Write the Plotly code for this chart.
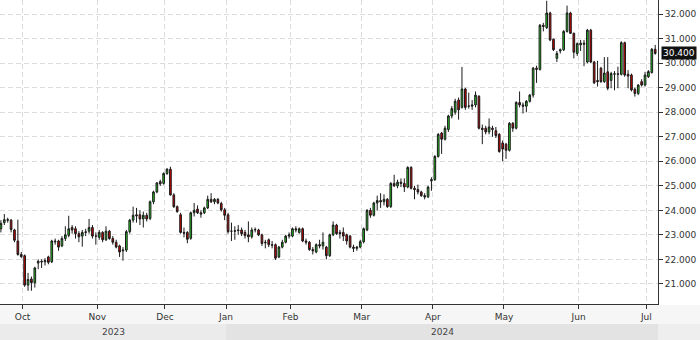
import pandas as pd
import plotly.graph_objects as go

# ---------------- data ----------------
closed_days = ["2023-11-01", "2023-11-23", "2023-12-08", "2023-12-25", "2023-12-26",
               "2024-01-01", "2024-01-02", "2024-01-15", "2024-01-16",
               "2024-04-01", "2024-05-01"]
dates = [d for d in pd.bdate_range("2023-09-21", "2024-07-03")
         if d.strftime("%Y-%m-%d") not in closed_days]

open_ = [23.25, 23.5, 23.62, 23.6, 23.2, 22.75, 22.2, 22.15, 20.95, 21.2,
         21.05, 21.85, 21.92, 21.9, 22.1, 21.9, 22.75, 22.75, 22.55, 22.85,
         22.98, 23.3, 23.25, 23.05, 22.95, 23.1, 23.15, 23.3, 22.95, 22.9,
         23.1, 22.8, 23.15, 22.85, 22.7, 22.55, 22.35, 22.38, 23.13, 23.6,
         23.82, 23.82, 23.65, 23.8, 23.67, 24.35, 24.75, 25.17, 25.1, 25.5,
         25.68, 24.63, 24.15, 23.82, 23.1, 23.1, 22.86, 23.9, 24.05, 23.9,
         23.9, 24.1, 24.45, 24.35, 24.45, 24.28, 24.02, 23.82, 23.15, 23.17,
         23.2, 23.2, 23.1, 23.0, 22.92, 23.2, 23.2, 23.0, 22.7, 22.8,
         22.6, 22.6, 22.1, 22.5, 22.7, 22.95, 22.95, 23.25, 23.1, 23.25,
         22.75, 22.7, 22.4, 22.3, 22.6, 22.55, 22.5, 22.15, 23.0, 23.4,
         23.1, 23.1, 23.0, 22.95, 22.5, 22.45, 22.5, 22.72, 23.2, 24.0,
         23.8, 24.3, 24.4, 24.35, 24.45, 24.15, 25.1, 25.0, 25.15, 25.1,
         24.95, 25.75, 24.9, 24.85, 24.75, 24.6, 24.55, 25.2, 25.25, 26.2,
         27.15, 26.9, 27.3, 27.85, 28.0, 28.5, 28.2, 28.95, 28.25, 28.25,
         28.3, 28.65, 27.35, 27.35, 27.2, 27.35, 27.25, 27.1, 26.75, 26.7,
         26.45, 27.55, 27.35, 28.4, 28.3, 28.25, 28.45, 28.7, 29.8, 29.75,
         31.55, 31.45, 32.05, 30.98, 30.2, 30.5, 30.55, 31.3, 32.05, 31.22,
         30.4, 30.75, 30.82, 30.05, 31.35, 30.05, 29.3, 29.8, 29.25, 29.65,
         29.3, 29.55, 29.57, 29.55, 30.84, 29.55, 29.52, 28.94, 28.77, 29.25,
         29.11, 29.45, 29.62, 30.57]

high = [23.6, 23.85, 23.7, 23.65, 23.25, 23.62, 22.3, 22.2, 21.45, 21.3,
        21.7, 22.0, 22.0, 22.05, 22.15, 22.8, 22.85, 22.8, 22.95, 23.35,
        23.78, 23.4, 23.35, 23.15, 23.2, 23.25, 23.65, 23.4, 23.1, 23.2,
        23.15, 23.35, 23.2, 22.95, 22.8, 22.6, 22.5, 23.2, 23.65, 24.15,
        24.1, 24.0, 23.95, 23.9, 24.4, 24.8, 25.15, 25.25, 25.55, 25.72,
        25.78, 24.7, 24.2, 23.9, 23.3, 23.15, 23.95, 24.3, 24.2, 24.0,
        24.15, 24.6, 24.7, 24.5, 24.5, 24.35, 24.1, 23.9, 23.5, 23.35,
        23.4, 23.3, 23.2, 23.55, 23.3, 23.3, 23.25, 23.05, 22.8, 22.85,
        22.75, 22.65, 22.55, 22.8, 23.0, 23.1, 23.3, 23.35, 23.3, 23.3,
        22.85, 22.75, 22.5, 22.65, 22.8, 23.1, 22.55, 23.05, 23.55, 23.45,
        23.2, 23.3, 23.05, 23.0, 22.6, 22.55, 22.8, 23.3, 24.05, 24.1,
        24.35, 24.6, 24.7, 24.65, 24.5, 25.15, 25.45, 25.25, 25.3, 25.3,
        25.8, 25.8, 25.0, 25.05, 24.8, 24.7, 25.0, 25.35, 26.25, 27.15,
        27.2, 27.45, 27.9, 28.25, 28.55, 28.6, 29.85, 29.0, 28.8, 28.5,
        28.85, 28.7, 27.5, 27.45, 27.75, 27.45, 27.4, 27.15, 26.85, 26.75,
        27.6, 27.6, 28.45, 28.85, 28.4, 28.5, 28.75, 29.85, 29.9, 31.6,
        31.65, 32.55, 32.1, 31.0, 30.5, 30.6, 31.35, 32.35, 32.1, 31.25,
        30.85, 30.95, 30.95, 31.4, 31.4, 30.1, 30.1, 29.85, 30.25, 30.25,
        29.65, 29.68, 29.86, 30.9, 30.88, 29.72, 29.58, 29.0, 29.15, 29.35,
        29.65, 29.72, 30.62, 30.75]

low = [23.1, 23.4, 23.5, 23.1, 22.7, 22.15, 22.05, 20.88, 20.72, 20.72,
       20.85, 21.6, 21.65, 21.75, 21.8, 21.85, 22.6, 22.35, 22.5, 22.75,
       22.9, 23.05, 22.85, 22.7, 22.52, 22.95, 23.05, 22.85, 22.6, 22.8,
       22.7, 22.75, 22.8, 22.6, 22.45, 22.1, 21.95, 22.3, 23.05, 23.5,
       23.5, 23.4, 23.3, 23.55, 23.6, 24.25, 24.7, 25.0, 25.05, 25.45,
       24.6, 24.1, 23.9, 23.05, 22.9, 22.66, 22.8, 23.75, 23.85, 23.7,
       23.85, 24.05, 24.3, 24.25, 24.25, 23.95, 23.6, 23.05, 22.75, 22.8,
       23.0, 22.95, 22.85, 22.7, 22.85, 23.1, 22.95, 22.55, 22.45, 22.5,
       22.45, 21.98, 22.05, 22.45, 22.65, 22.85, 22.9, 23.1, 23.05, 22.7,
       22.6, 22.35, 22.2, 22.25, 22.45, 22.4, 22.0, 22.1, 22.95, 23.0,
       22.85, 22.75, 22.6, 22.45, 22.3, 22.35, 22.45, 22.65, 23.15, 23.7,
       23.75, 24.0, 24.1, 24.2, 24.1, 24.1, 24.95, 24.9, 24.95, 24.75,
       24.9, 24.85, 24.45, 24.65, 24.55, 24.45, 24.5, 24.8, 25.2, 26.15,
       26.3, 26.85, 27.2, 27.75, 27.9, 27.7, 28.15, 28.1, 28.15, 28.1,
       28.2, 27.3, 26.7, 27.1, 27.1, 27.0, 26.95, 26.35, 26.0, 26.1,
       26.4, 27.2, 27.3, 28.2, 27.95, 28.0, 28.4, 28.6, 29.2, 29.7,
       31.3, 31.4, 30.9, 30.5, 30.05, 30.4, 30.5, 31.25, 31.2, 30.2,
       30.3, 30.5, 29.88, 30.0, 30.0, 29.15, 29.05, 29.2, 29.2, 28.9,
       28.98, 28.9, 28.98, 29.5, 29.45, 28.98, 28.85, 28.64, 28.7, 29.05,
       29.05, 29.4, 29.58, 30.35]

close = [23.47, 23.62, 23.6, 23.22, 22.78, 22.2, 22.12, 20.95, 21.18, 21.05,
         21.65, 21.92, 21.9, 21.95, 21.88, 22.75, 22.72, 22.5, 22.85, 23.0,
         23.25, 23.2, 23.05, 22.92, 23.1, 23.12, 23.3, 22.95, 22.95, 23.1,
         22.8, 23.15, 22.85, 22.7, 22.5, 22.3, 22.38, 23.13, 23.6, 23.8,
         23.78, 23.65, 23.8, 23.65, 24.35, 24.75, 25.12, 25.08, 25.5, 25.68,
         24.63, 24.15, 23.95, 23.1, 23.07, 22.82, 23.9, 24.0, 23.9, 23.85,
         24.1, 24.45, 24.35, 24.45, 24.3, 24.02, 23.8, 23.13, 23.15, 23.15,
         23.18, 23.05, 22.97, 22.92, 23.2, 23.22, 23.0, 22.65, 22.68, 22.6,
         22.58, 22.05, 22.5, 22.7, 22.95, 23.0, 23.25, 23.2, 23.25, 22.75,
         22.7, 22.4, 22.35, 22.6, 22.55, 22.7, 22.15, 23.0, 23.4, 23.05,
         23.05, 22.95, 22.75, 22.5, 22.45, 22.5, 22.72, 23.25, 24.0, 23.8,
         24.3, 24.4, 24.35, 24.45, 24.15, 25.1, 25.0, 25.15, 25.1, 24.95,
         25.75, 24.9, 24.85, 24.75, 24.6, 24.55, 24.95, 25.25, 26.2, 27.1,
         26.9, 27.35, 27.85, 28.15, 28.45, 28.1, 28.95, 28.2, 28.25, 28.3,
         28.7, 27.35, 27.3, 27.2, 27.4, 27.3, 27.05, 26.4, 26.5, 26.45,
         27.55, 27.35, 28.4, 28.3, 28.25, 28.45, 28.7, 29.8, 29.75, 31.55,
         31.5, 32.05, 30.95, 30.55, 30.4, 30.55, 31.3, 32.05, 31.22, 30.45,
         30.8, 30.82, 30.78, 31.35, 30.05, 29.2, 29.25, 29.25, 29.6, 28.98,
         29.58, 29.57, 29.55, 30.84, 29.52, 29.48, 28.91, 28.77, 29.11, 29.11,
         29.52, 29.66, 30.57, 30.40]

y_ticks = [21, 22, 23, 24, 25, 26, 27, 28, 29, 30, 31, 32]

assert len(dates) == len(open_) == len(high) == len(low) == len(close)

# ---------------- derived axis helpers ----------------
n = len(dates)
xs = list(range(n))
x_lo, x_hi = -0.27, n - 0.17
y_lo, y_hi = 20.18, 32.58

tickvals, ticktext, year_starts = [], [], []
for k in range(1, n):
    if dates[k].month != dates[k - 1].month:
        tickvals.append(k - 0.6)
        ticktext.append(dates[k].strftime("%b"))
        if dates[k].year != dates[k - 1].year:
            year_starts.append((k - 0.6, dates[k].year))

def to_paper(v):
    return (v - x_lo) / (x_hi - x_lo)

font_family = "DejaVu Sans, Verdana, sans-serif"

fig = go.Figure(go.Candlestick(
    x=xs, open=open_, high=high, low=low, close=close,
    increasing=dict(fillcolor="#22d022", line=dict(color="#1a1a1a", width=1)),
    decreasing=dict(fillcolor="#d80000", line=dict(color="#1a1a1a", width=1)),
    whiskerwidth=0, hoverinfo="skip", showlegend=False,
))

# bottom strips (label row and year band)
shapes = [
    dict(type="rect", xref="paper", yref="paper", x0=0, x1=1.07, y0=-0.0033, y1=-0.0658,
         fillcolor="#f6f6f6", line_width=0, layer="below"),
]
first_year = dates[0].year
bounds = [(0.0, first_year)]
for v, yr in year_starts:
    bounds.append((to_paper(v), yr))
for j, (p0, yr) in enumerate(bounds):
    p1 = bounds[j + 1][0] if j + 1 < len(bounds) else 1.0
    shapes.append(dict(type="rect", xref="paper", yref="paper", x0=p0, x1=p1,
                       y0=-0.0658, y1=-0.1184,
                       fillcolor="#ebebeb" if j % 2 == 0 else "#e3e3e3",
                       line_width=0, layer="below"))
shapes.append(dict(type="rect", xref="paper", yref="paper", x0=1.0, x1=1.07,
                   y0=-0.0658, y1=-0.1184, fillcolor="#eeeeee", line_width=0, layer="below"))

annotations = []
for j, (p0, yr) in enumerate(bounds):
    p1 = bounds[j + 1][0] if j + 1 < len(bounds) else 1.0
    annotations.append(dict(x=(p0 + p1) / 2, y=-0.0921, xref="paper", yref="paper",
                            xanchor="center", yanchor="middle",
                            text=str(yr), showarrow=False,
                            font=dict(size=9, color="#444", family=font_family)))
annotations.append(dict(x=1, xref="paper", xanchor="left", xshift=3,
                        y=close[-1], yref="y", yanchor="middle", text=f"{close[-1]:.3f}",
                        showarrow=False, bgcolor="#111111", borderpad=1,
                        font=dict(size=9, color="white", family=font_family)))

fig.update_layout(
    width=700, height=340,
    margin=dict(l=0, r=42, t=0, b=36),
    paper_bgcolor="white", plot_bgcolor="white",
    font=dict(family=font_family, size=9, color="#333"),
    shapes=shapes, annotations=annotations,
    xaxis=dict(range=[x_lo, x_hi], tickmode="array", tickvals=tickvals, ticktext=ticktext,
               showgrid=True, gridcolor="#dcdcdc", griddash="5px,3px", gridwidth=1,
               showline=True, linecolor="#333", linewidth=1,
               ticks="outside", ticklen=4, tickcolor="#333",
               tickfont=dict(size=9, color="#333"),
               zeroline=False, rangeslider=dict(visible=False), fixedrange=True),
    yaxis=dict(range=[y_lo, y_hi], side="right", tickmode="array", tickvals=y_ticks,
               tickformat=".3f",
               showgrid=True, gridcolor="#dcdcdc", griddash="5px,3px", gridwidth=1,
               showline=True, linecolor="#333", linewidth=1,
               ticks="outside", ticklen=4, tickcolor="#333",
               tickfont=dict(size=9, color="#333"),
               zeroline=False, fixedrange=True),
)

fig.write_html("out.html")
